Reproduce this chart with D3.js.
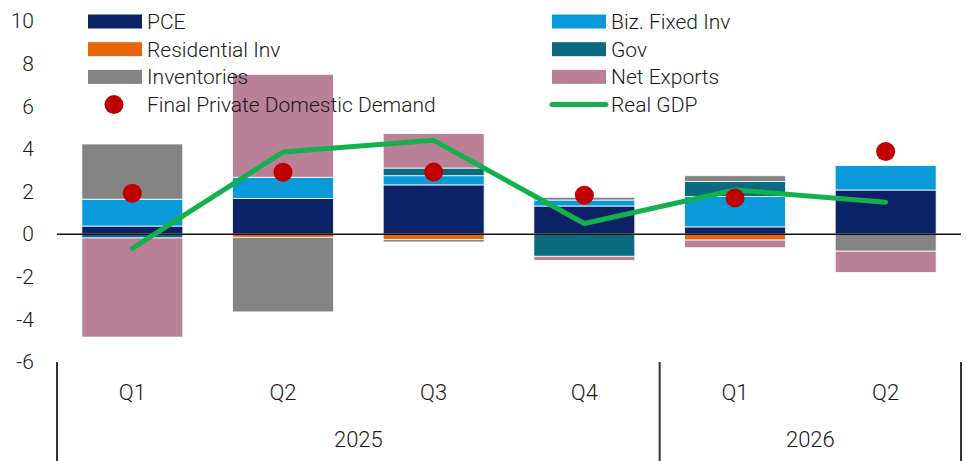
<!DOCTYPE html>
<html>
<head>
<meta charset="utf-8">
<script src="https://cdn.jsdelivr.net/npm/d3@7"></script>
<style>
  body { margin: 0; background: #fff; }
  text { font-family: Roboto, "Noto Sans", sans-serif; font-weight: 300; fill: #1a1a1a; }
</style>
</head>
<body>
<script>
// categories
const quarters = ["2025 Q1", "2025 Q2", "2025 Q3", "2025 Q4", "2026 Q1", "2026 Q2"];
const quarterLabels = ["Q1", "Q2", "Q3", "Q4", "Q1", "Q2"];
const years = [{ label: "2025", from: 0, to: 3 }, { label: "2026", from: 4, to: 5 }];

// contributions to GDP growth, pp
const pce         = [0.38, 1.67, 2.31, 1.32, 0.34, 2.07];
const bizFixedInv = [1.26, 1.00, 0.43, 0.28, 1.42, 1.15];
const residential = [0.00, -0.15, -0.25, 0.00, -0.28, 0.00];
const gov         = [-0.18, 0.00, 0.36, -1.04, 0.71, 0.00];
const inventories = [2.59, -3.50, -0.12, 0.13, 0.27, -0.80];
const netExports  = [-4.65, 4.83, 1.62, -0.20, -0.36, -1.00];

const finalPrivateDomesticDemand = [1.92, 2.90, 2.91, 1.82, 1.70, 3.88];
const realGDP = [-0.67, 3.85, 4.40, 0.50, 2.07, 1.50];

const yTicks = [-6, -4, -2, 0, 2, 4, 6, 8, 10];

const seriesKeys = ["PCE", "Biz. Fixed Inv", "Residential Inv", "Gov", "Inventories", "Net Exports"];
const seriesValues = [pce, bizFixedInv, residential, gov, inventories, netExports];
const colors = ["#0b2267", "#0a9ad9", "#e8650c", "#0a6a80", "#838383", "#b98098"];

const width = 967;
const height = 461;
const margin = { top: 21, right: 6, bottom: 99, left: 57 };

const table = quarters.map((q, i) => {
  const row = { q };
  seriesKeys.forEach((k, j) => row[k] = seriesValues[j][i]);
  return row;
});

const svg = d3.select("body").append("svg")
  .attr("width", width)
  .attr("height", height);

// x scale
const xScale = d3.scaleBand()
  .domain(quarters)
  .range([margin.left, width - margin.right])
  .paddingInner(0.33)
  .paddingOuter(0.165);

// y scale
const yScale = d3.scaleLinear()
  .domain([-6, 10])
  .range([height - margin.bottom, margin.top]);

// y labels
svg.append("g")
  .selectAll("text")
  .data(yTicks)
  .join("text")
  .attr("x", 34)
  .attr("y", d => yScale(d))
  .attr("dy", "0.35em")
  .attr("text-anchor", "end")
  .style("font-size", "21px")
  .text(d => d);

// stacked bars
const stack = d3.stack()
  .keys(seriesKeys)
  .offset(d3.stackOffsetDiverging);

const layers = stack(table);

svg.append("g")
  .selectAll("g")
  .data(layers)
  .join("g")
  .attr("fill", (d, i) => colors[i])
  .selectAll("rect")
  .data(d => d.filter(p => p[1] !== p[0]))
  .join("rect")
  .attr("x", d => xScale(d.data.q))
  .attr("width", xScale.bandwidth())
  .attr("y", d => yScale(Math.max(d[0], d[1])))
  .attr("height", d => Math.abs(yScale(d[0]) - yScale(d[1])))
  .attr("stroke", "#fff")
  .attr("stroke-width", 0.8);

// zero line
svg.append("line")
  .attr("x1", margin.left)
  .attr("x2", width - margin.right)
  .attr("y1", yScale(0))
  .attr("y2", yScale(0))
  .attr("stroke", "#111")
  .attr("stroke-width", 1.5);

// Real GDP line
const line = d3.line()
  .x((d, i) => xScale(quarters[i]) + xScale.bandwidth() / 2)
  .y(d => yScale(d));

svg.append("path")
  .datum(realGDP)
  .attr("d", line)
  .attr("fill", "none")
  .attr("stroke", "#14b04e")
  .attr("stroke-width", 5)
  .attr("stroke-linecap", "round")
  .attr("stroke-linejoin", "round");

// final private domestic demand dots
svg.append("g")
  .selectAll("circle")
  .data(finalPrivateDomesticDemand)
  .join("circle")
  .attr("cx", (d, i) => xScale(quarters[i]) + xScale.bandwidth() / 2)
  .attr("cy", d => yScale(d))
  .attr("r", 9.5)
  .attr("fill", "#c00000");

// x axis: quarters and years
const axisTop = height - margin.bottom;
const step = xScale.step();
const groupEdge = i => xScale(quarters[i]) - xScale.paddingInner() * step / 2;

svg.append("g")
  .selectAll("text")
  .data(quarterLabels)
  .join("text")
  .attr("x", (d, i) => xScale(quarters[i]) + xScale.bandwidth() / 2)
  .attr("y", axisTop + 30)
  .attr("dy", "0.35em")
  .attr("text-anchor", "middle")
  .style("font-size", "22px")
  .text(d => d);

const separators = [margin.left, groupEdge(4), width - margin.right];
svg.append("g")
  .selectAll("line")
  .data(separators)
  .join("line")
  .attr("x1", d => d)
  .attr("x2", d => d)
  .attr("y1", axisTop)
  .attr("y2", height)
  .attr("stroke", "#333")
  .attr("stroke-width", 2);

svg.append("g")
  .selectAll("text")
  .data(years)
  .join("text")
  .attr("x", d => (groupEdge(d.from) + (d.to === quarters.length - 1 ? width - margin.right : groupEdge(d.to + 1))) / 2)
  .attr("y", axisTop + 77)
  .attr("dy", "0.35em")
  .attr("text-anchor", "middle")
  .style("font-size", "22px")
  .text(d => d.label);

// legend
const legendItems = [
  { label: "PCE", type: "bar", color: colors[0] },
  { label: "Biz. Fixed Inv", type: "bar", color: colors[1] },
  { label: "Residential Inv", type: "bar", color: colors[2] },
  { label: "Gov", type: "bar", color: colors[3] },
  { label: "Inventories", type: "bar", color: colors[4] },
  { label: "Net Exports", type: "bar", color: colors[5] },
  { label: "Final Private Domestic Demand", type: "dot", color: "#c00000" },
  { label: "Real GDP", type: "line", color: "#14b04e" }
];
const legendX = [88, 552];
const legendY0 = 21.5;
const legendRow = 27.7;

const legend = svg.append("g")
  .selectAll("g")
  .data(legendItems)
  .join("g")
  .attr("transform", (d, i) => `translate(${legendX[i % 2]},${legendY0 + Math.floor(i / 2) * legendRow})`);

legend.filter(d => d.type === "bar").append("rect")
  .attr("x", 0)
  .attr("y", -7)
  .attr("width", 54)
  .attr("height", 14)
  .attr("fill", d => d.color);

legend.filter(d => d.type === "dot").append("circle")
  .attr("cx", 26)
  .attr("cy", 0)
  .attr("r", 9.5)
  .attr("fill", d => d.color);

legend.filter(d => d.type === "line").append("line")
  .attr("x1", 0)
  .attr("x2", 54)
  .attr("stroke", d => d.color)
  .attr("stroke-width", 5)
  .attr("stroke-linecap", "round");

legend.append("text")
  .attr("x", 59)
  .attr("y", 0)
  .attr("dy", "0.35em")
  .style("font-size", "21px")
  .text(d => d.label);
</script>
</body>
</html>
